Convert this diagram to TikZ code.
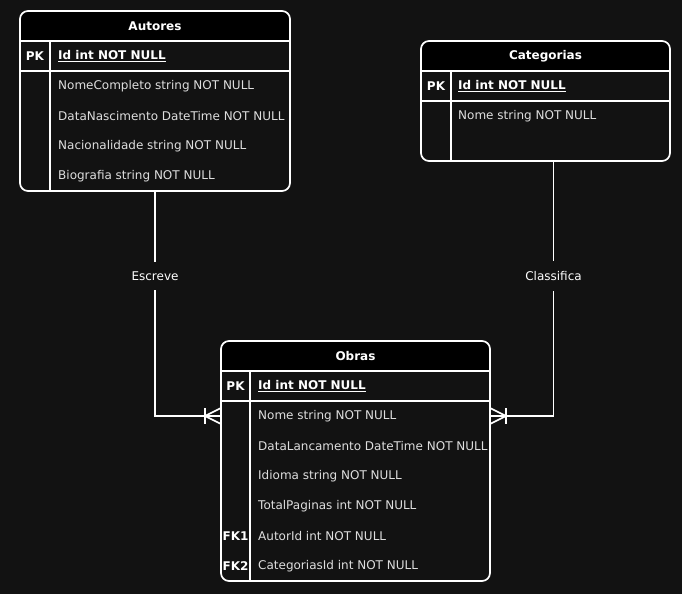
\documentclass[tikz,border=0pt]{standalone}
\usepackage{fontspec}
\setmainfont{DejaVu Sans}
\definecolor{canvas}{RGB}{18,18,18}
\definecolor{rowtext}{RGB}{222,222,222}
\usetikzlibrary{positioning,calc}

\tikzset{
    erline/.style={draw=white, line width=1.7pt},
    tablebox/.style={inner sep=0pt, outer sep=0pt},
    title/.style={text=white, font=\fontsize{12}{14}\selectfont\bfseries},
    keytag/.style={text=white, inner sep=0pt, font=\fontsize{12}{14}\selectfont\bfseries},
    field/.style={anchor=west, inner sep=0pt, text=rowtext, font=\fontsize{12}{14}\selectfont},
    relname/.style={fill=canvas, text=white, inner xsep=2pt, inner ysep=10pt, font=\fontsize{12}{14}\selectfont}
}

\begin{document}
\begin{tikzpicture}[x=1pt, y=-1pt]
        \fill[canvas] (0,0) rectangle (682,594);
        \useasboundingbox (0,0) rectangle (682,594);

        % tables
        \node[tablebox, minimum width=270pt, minimum height=180pt] (autores) at (155,101) {};
        \node[tablebox, minimum width=249pt, minimum height=120pt] (categorias) at (545.5,101) {};
        \node[tablebox, minimum width=269pt, minimum height=240pt] (obras) at (355.5,461) {};

        \begin{scope}
            \clip[rounded corners=8pt] (autores.north west) rectangle (autores.south east);
            \fill[black] (autores.north west) rectangle ($(autores.north east)+(0,30)$);
        \end{scope}
        \begin{scope}
            \clip[rounded corners=8pt] (categorias.north west) rectangle (categorias.south east);
            \fill[black] (categorias.north west) rectangle ($(categorias.north east)+(0,30)$);
        \end{scope}
        \begin{scope}
            \clip[rounded corners=8pt] (obras.north west) rectangle (obras.south east);
            \fill[black] (obras.north west) rectangle ($(obras.north east)+(0,30)$);
        \end{scope}

        \draw[erline, rounded corners=8pt] (autores.north west) rectangle (autores.south east);
        \draw[erline] (20,41) -- (290,41);
        \draw[erline] (20,71) -- (290,71);
        \draw[erline] (50,41) -- (50,191);

        \draw[erline, rounded corners=8pt] (categorias.north west) rectangle (categorias.south east);
        \draw[erline] (421,71) -- (670,71);
        \draw[erline] (421,101) -- (670,101);
        \draw[erline] (451,71) -- (451,161);

        \draw[erline, rounded corners=8pt] (obras.north west) rectangle (obras.south east);
        \draw[erline] (221,371) -- (490,371);
        \draw[erline] (221,401) -- (490,401);
        \draw[erline] (250,371) -- (250,581);

        % Autores
        \node[title] (autoresT) at (155,26) {Autores};
        \node[keytag] (aPK) at (35,56) {PK};
        \node[field, text=white] (aId) at (58,56) {\bfseries\underline{Id int NOT NULL}};
        \node[field] (aNome) at (58,86) {NomeCompleto string NOT NULL};
        \node[field] (aData) at (58,116) {DataNascimento DateTime NOT NULL};
        \node[field] (aNac) at (58,146) {Nacionalidade string NOT NULL};
        \node[field] (aBio) at (58,176) {Biografia string NOT NULL};

        % Categorias
        \node[title] (categoriasT) at (545.5,56) {Categorias};
        \node[keytag] (cPK) at (436,86) {PK};
        \node[field, text=white] (cId) at (458,86) {\bfseries\underline{Id int NOT NULL}};
        \node[field] (cNome) at (458,116) {Nome string NOT NULL};

        % Obras
        \node[title] (obrasT) at (355.5,356) {Obras};
        \node[keytag] (oPK) at (235.5,386) {PK};
        \node[field, text=white] (oId) at (258,386) {\bfseries\underline{Id int NOT NULL}};
        \node[field] (oNome) at (258,416) {Nome string NOT NULL};
        \node[field] (oData) at (258,446) {DataLancamento DateTime NOT NULL};
        \node[field] (oIdioma) at (258,476) {Idioma string NOT NULL};
        \node[field] (oTotal) at (258,506) {TotalPaginas int NOT NULL};
        \node[keytag] (oFK1) at (235.5,536) {FK1};
        \node[field] (oAutor) at (258,536) {AutorId int NOT NULL};
        \node[keytag] (oFK2) at (235.5,566) {FK2};
        \node[field] (oCat) at (258,566) {CategoriasId int NOT NULL};

        % relations
        \coordinate (autoresEnd) at (obras.west |- oNome);
        \coordinate (categoriasEnd) at (obras.east |- oNome);
        \coordinate (categoriasStart) at ([xshift=8pt]categorias.south);

        \draw[erline] (autores.south) |- (autoresEnd);
        \draw[erline] (categoriasStart) |- (categoriasEnd);

        \draw[erline] ($(autoresEnd)+(-16,-8)$) -- ++(0,16);
        \draw[erline] ($(autoresEnd)+(0,-8)$) -- ++(-16,8) -- ++(16,8);
        \draw[erline] ($(categoriasEnd)+(16,-8)$) -- ++(0,16);
        \draw[erline] ($(categoriasEnd)+(0,-8)$) -- ++(16,8) -- ++(-16,8);

        \node[relname] (escreve) at (autores.south |- 0,276) {Escreve};
        \node[relname] (classifica) at (categoriasStart |- 0,276) {Classifica};
    \end{tikzpicture}
\end{document}
